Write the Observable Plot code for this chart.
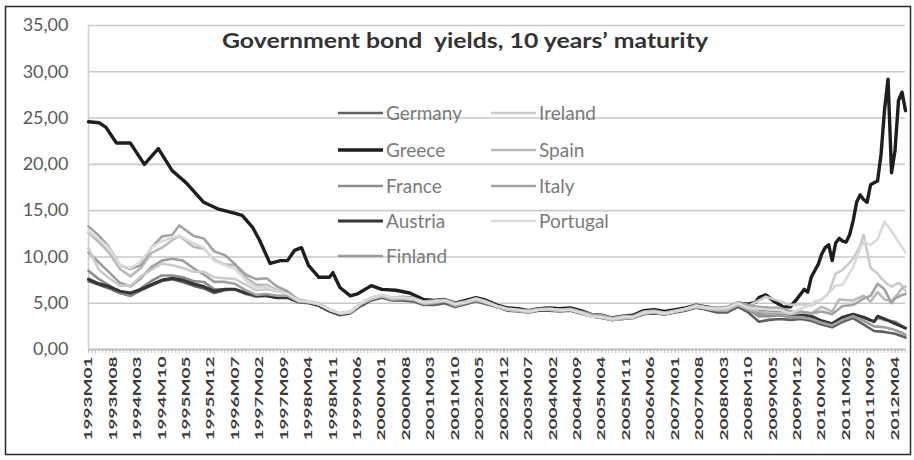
<!DOCTYPE html>
<html><head><meta charset="utf-8">
<script src="https://cdn.jsdelivr.net/npm/d3@7"></script>
<script src="https://cdn.jsdelivr.net/npm/@observablehq/plot@0.6"></script>
<style>
body{margin:0;background:#fff;}
#chart{width:914px;height:460px;}
</style></head><body><div id="chart"></div>
<script>
const titleText = "Government bond  yields, 10 years\u2019 maturity";
const tickLabels = ["1993M01","1993M08","1994M03","1994M10","1995M05","1995M12","1996M07","1997M02","1997M09","1998M04","1998M11","1999M06","2000M01","2000M08","2001M03","2001M10","2002M05","2002M12","2003M07","2004M02","2004M09","2005M04","2005M11","2006M06","2007M01","2007M08","2008M03","2008M10","2009M05","2009M12","2010M07","2011M02","2011M09","2012M04"];
const yTicks = [0,5,10,15,20,25,30,35];
const lastPeriod = "2012M07";

const germany = [["1993M01",7.4],["1993M04",7.0],["1993M07",6.6],["1993M10",6.1],["1994M01",5.8],["1994M04",6.4],["1994M07",6.9],["1994M10",7.4],["1995M01",7.6],["1995M04",7.3],["1995M07",6.9],["1995M10",6.6],["1996M01",6.1],["1996M04",6.4],["1996M07",6.5],["1996M10",6.1],["1997M01",5.8],["1997M04",5.8],["1997M07",5.6],["1997M10",5.6],["1998M01",5.1],["1998M04",5.0],["1998M07",4.7],["1998M10",4.1],["1999M01",3.7],["1999M04",3.9],["1999M07",4.7],["1999M10",5.3],["2000M01",5.6],["2000M04",5.3],["2000M07",5.3],["2000M10",5.2],["2001M01",4.8],["2001M04",4.8],["2001M07",5.0],["2001M10",4.6],["2002M01",4.9],["2002M04",5.2],["2002M07",4.9],["2002M10",4.6],["2003M01",4.2],["2003M04",4.1],["2003M07",4.0],["2003M10",4.2],["2004M01",4.2],["2004M04",4.1],["2004M07",4.2],["2004M10",3.9],["2005M01",3.6],["2005M04",3.4],["2005M07",3.2],["2005M10",3.3],["2006M01",3.4],["2006M04",3.8],["2006M07",3.9],["2006M10",3.8],["2007M01",4.0],["2007M04",4.2],["2007M07",4.5],["2007M10",4.3],["2008M01",4.0],["2008M04",4.0],["2008M07",4.6],["2008M10",4.0],["2009M01",3.0],["2009M04",3.2],["2009M07",3.3],["2009M10",3.2],["2010M01",3.3],["2010M04",3.1],["2010M07",2.7],["2010M10",2.4],["2011M01",3.0],["2011M04",3.4],["2011M07",2.7],["2011M10",2.0],["2012M01",1.9],["2012M04",1.7],["2012M07",1.3]];

const greece = [["1993M01",24.6],["1993M04",24.5],["1993M06",24.0],["1993M09",22.3],["1994M01",22.3],["1994M05",20.0],["1994M09",21.7],["1995M01",19.3],["1995M05",18.0],["1995M10",15.9],["1996M02",15.2],["1996M07",14.7],["1996M09",14.5],["1996M12",13.2],["1997M02",11.8],["1997M05",9.3],["1997M08",9.6],["1997M10",9.6],["1997M12",10.7],["1998M02",11.0],["1998M04",9.1],["1998M07",7.8],["1998M10",7.8],["1998M11",8.3],["1999M01",6.7],["1999M04",5.8],["1999M06",6.0],["1999M10",6.9],["2000M01",6.5],["2000M05",6.4],["2000M09",6.1],["2001M01",5.4],["2001M04",5.3],["2001M07",5.4],["2001M10",5.0],["2002M01",5.3],["2002M04",5.6],["2002M07",5.3],["2002M10",4.8],["2003M01",4.5],["2003M04",4.4],["2003M07",4.2],["2003M10",4.4],["2004M01",4.5],["2004M04",4.4],["2004M07",4.5],["2004M10",4.2],["2005M01",3.8],["2005M04",3.7],["2005M07",3.4],["2005M10",3.6],["2006M01",3.7],["2006M04",4.2],["2006M07",4.3],["2006M10",4.1],["2007M01",4.3],["2007M04",4.5],["2007M07",4.8],["2007M10",4.6],["2008M01",4.4],["2008M04",4.5],["2008M07",5.0],["2008M10",4.9],["2008M12",5.1],["2009M01",5.6],["2009M03",5.9],["2009M05",5.3],["2009M08",4.6],["2009M10",4.6],["2009M12",5.5],["2010M01",6.0],["2010M02",6.5],["2010M03",6.2],["2010M04",7.8],["2010M05",8.5],["2010M06",9.2],["2010M07",10.3],["2010M08",11.0],["2010M09",11.3],["2010M10",9.6],["2010M11",11.5],["2010M12",12.0],["2011M01",11.7],["2011M02",11.6],["2011M03",12.4],["2011M04",13.9],["2011M05",15.9],["2011M06",16.7],["2011M07",16.2],["2011M08",15.9],["2011M09",17.8],["2011M10",18.0],["2011M11",18.2],["2011M12",21.1],["2012M01",25.9],["2012M02",29.2],["2012M03",19.1],["2012M04",21.5],["2012M05",26.9],["2012M06",27.8],["2012M07",25.8]];

const france = [["1993M01",8.5],["1993M04",7.6],["1993M07",6.9],["1993M10",6.1],["1994M01",5.8],["1994M04",6.6],["1994M07",7.4],["1994M10",8.0],["1995M01",8.0],["1995M04",7.8],["1995M07",7.4],["1995M10",7.3],["1996M01",6.5],["1996M04",6.5],["1996M07",6.5],["1996M10",6.0],["1997M01",5.7],["1997M04",5.8],["1997M07",5.6],["1997M10",5.6],["1998M01",5.2],["1998M04",5.1],["1998M07",4.8],["1998M10",4.2],["1999M01",3.8],["1999M04",4.0],["1999M07",4.8],["1999M10",5.4],["2000M01",5.7],["2000M04",5.4],["2000M07",5.5],["2000M10",5.4],["2001M01",5.0],["2001M04",5.1],["2001M07",5.2],["2001M10",4.8],["2002M01",5.0],["2002M04",5.4],["2002M07",5.1],["2002M10",4.6],["2003M01",4.3],["2003M04",4.2],["2003M07",4.1],["2003M10",4.3],["2004M01",4.3],["2004M04",4.2],["2004M07",4.3],["2004M10",4.0],["2005M01",3.6],["2005M04",3.5],["2005M07",3.2],["2005M10",3.4],["2006M01",3.4],["2006M04",3.9],["2006M07",4.0],["2006M10",3.8],["2007M01",4.1],["2007M04",4.3],["2007M07",4.6],["2007M10",4.4],["2008M01",4.2],["2008M04",4.2],["2008M07",4.8],["2008M10",4.3],["2009M01",3.6],["2009M04",3.6],["2009M07",3.7],["2009M10",3.5],["2010M01",3.5],["2010M04",3.5],["2010M07",3.0],["2010M10",2.8],["2011M01",3.4],["2011M04",3.7],["2011M07",3.4],["2011M10",3.0],["2011M11",3.4],["2012M01",3.2],["2012M04",3.0],["2012M07",2.3]];

const austria = [["1993M01",7.6],["1993M04",7.1],["1993M07",6.8],["1993M10",6.3],["1994M01",6.1],["1994M04",6.5],["1994M07",7.0],["1994M10",7.5],["1995M01",7.7],["1995M04",7.5],["1995M07",7.1],["1995M10",6.8],["1996M01",6.3],["1996M04",6.5],["1996M07",6.5],["1996M10",6.1],["1997M01",5.8],["1997M04",5.8],["1997M07",5.6],["1997M10",5.6],["1998M01",5.2],["1998M04",5.1],["1998M07",4.8],["1998M10",4.2],["1999M01",3.8],["1999M04",4.0],["1999M07",4.8],["1999M10",5.4],["2000M01",5.7],["2000M04",5.5],["2000M07",5.5],["2000M10",5.4],["2001M01",5.0],["2001M04",5.1],["2001M07",5.2],["2001M10",4.8],["2002M01",5.0],["2002M04",5.4],["2002M07",5.1],["2002M10",4.6],["2003M01",4.3],["2003M04",4.2],["2003M07",4.1],["2003M10",4.3],["2004M01",4.3],["2004M04",4.2],["2004M07",4.3],["2004M10",4.0],["2005M01",3.6],["2005M04",3.5],["2005M07",3.2],["2005M10",3.4],["2006M01",3.5],["2006M04",3.9],["2006M07",4.0],["2006M10",3.8],["2007M01",4.1],["2007M04",4.3],["2007M07",4.6],["2007M10",4.4],["2008M01",4.2],["2008M04",4.2],["2008M07",4.8],["2008M10",4.4],["2009M01",4.1],["2009M04",4.1],["2009M07",4.0],["2009M10",3.7],["2010M01",3.8],["2010M04",3.6],["2010M07",3.1],["2010M10",2.8],["2011M01",3.5],["2011M04",3.8],["2011M07",3.5],["2011M10",3.0],["2011M11",3.6],["2012M01",3.3],["2012M04",2.8],["2012M07",2.3]];

const finland = [["1993M01",10.5],["1993M04",9.4],["1993M07",8.3],["1993M10",7.2],["1994M01",6.8],["1994M04",7.7],["1994M07",8.9],["1994M10",9.6],["1995M01",9.8],["1995M04",9.6],["1995M07",8.8],["1995M10",8.1],["1996M01",7.3],["1996M04",7.3],["1996M07",7.1],["1996M10",6.4],["1997M01",5.9],["1997M04",6.0],["1997M07",5.8],["1997M10",5.8],["1998M01",5.2],["1998M04",5.1],["1998M07",4.9],["1998M10",4.3],["1999M01",3.9],["1999M04",4.0],["1999M07",4.9],["1999M10",5.4],["2000M01",5.7],["2000M04",5.4],["2000M07",5.5],["2000M10",5.4],["2001M01",4.9],["2001M04",5.0],["2001M07",5.2],["2001M10",4.7],["2002M01",5.0],["2002M04",5.3],["2002M07",5.0],["2002M10",4.6],["2003M01",4.3],["2003M04",4.2],["2003M07",4.0],["2003M10",4.3],["2004M01",4.3],["2004M04",4.2],["2004M07",4.3],["2004M10",3.9],["2005M01",3.6],["2005M04",3.4],["2005M07",3.2],["2005M10",3.3],["2006M01",3.4],["2006M04",3.9],["2006M07",4.0],["2006M10",3.8],["2007M01",4.1],["2007M04",4.3],["2007M07",4.6],["2007M10",4.4],["2008M01",4.2],["2008M04",4.2],["2008M07",4.8],["2008M10",4.3],["2009M01",3.8],["2009M04",3.8],["2009M07",3.8],["2009M10",3.5],["2010M01",3.5],["2010M04",3.3],["2010M07",2.9],["2010M10",2.6],["2011M01",3.2],["2011M04",3.6],["2011M07",3.1],["2011M10",2.5],["2012M01",2.4],["2012M04",2.1],["2012M07",1.6]];

const ireland = [["1993M01",10.9],["1993M04",8.6],["1993M07",7.7],["1993M10",6.9],["1994M01",6.9],["1994M04",7.9],["1994M07",8.6],["1994M10",9.3],["1995M01",9.1],["1995M04",8.8],["1995M07",8.4],["1995M10",8.4],["1996M01",7.8],["1996M04",7.7],["1996M07",7.6],["1996M10",7.0],["1997M01",6.4],["1997M04",6.5],["1997M07",6.3],["1997M10",6.1],["1998M01",5.3],["1998M04",5.2],["1998M07",5.0],["1998M10",4.3],["1999M01",3.9],["1999M04",4.0],["1999M07",4.9],["1999M10",5.5],["2000M01",5.8],["2000M04",5.5],["2000M07",5.5],["2000M10",5.4],["2001M01",5.0],["2001M04",5.1],["2001M07",5.3],["2001M10",4.9],["2002M01",5.1],["2002M04",5.4],["2002M07",5.1],["2002M10",4.6],["2003M01",4.3],["2003M04",4.2],["2003M07",4.1],["2003M10",4.3],["2004M01",4.3],["2004M04",4.2],["2004M07",4.3],["2004M10",4.0],["2005M01",3.6],["2005M04",3.5],["2005M07",3.2],["2005M10",3.4],["2006M01",3.5],["2006M04",3.9],["2006M07",4.0],["2006M10",3.9],["2007M01",4.1],["2007M04",4.3],["2007M07",4.7],["2007M10",4.5],["2008M01",4.3],["2008M04",4.5],["2008M07",5.0],["2008M10",4.7],["2009M01",5.3],["2009M03",5.7],["2009M07",5.2],["2009M10",4.8],["2010M01",4.9],["2010M04",4.7],["2010M07",5.4],["2010M09",6.1],["2010M11",8.2],["2011M01",8.6],["2011M04",9.8],["2011M06",11.2],["2011M07",12.4],["2011M09",8.8],["2011M11",8.2],["2011M12",7.7],["2012M02",7.0],["2012M03",6.8],["2012M05",7.2],["2012M06",6.9],["2012M07",6.3]];

const spain = [["1993M01",12.6],["1993M04",11.6],["1993M07",10.4],["1993M10",8.7],["1994M01",7.9],["1994M04",8.8],["1994M07",10.4],["1994M10",11.0],["1995M01",11.8],["1995M03",12.3],["1995M07",11.1],["1995M10",10.9],["1996M01",9.7],["1996M04",9.2],["1996M07",9.1],["1996M10",7.8],["1997M01",7.0],["1997M04",7.0],["1997M07",6.4],["1997M10",6.1],["1998M01",5.3],["1998M04",5.1],["1998M07",4.9],["1998M10",4.3],["1999M01",3.9],["1999M04",4.1],["1999M07",4.9],["1999M10",5.5],["2000M01",5.8],["2000M04",5.5],["2000M07",5.5],["2000M10",5.4],["2001M01",5.1],["2001M04",5.2],["2001M07",5.3],["2001M10",4.9],["2002M01",5.1],["2002M04",5.4],["2002M07",5.1],["2002M10",4.6],["2003M01",4.3],["2003M04",4.2],["2003M07",4.1],["2003M10",4.3],["2004M01",4.3],["2004M04",4.2],["2004M07",4.3],["2004M10",4.0],["2005M01",3.6],["2005M04",3.5],["2005M07",3.2],["2005M10",3.4],["2006M01",3.5],["2006M04",3.9],["2006M07",4.0],["2006M10",3.8],["2007M01",4.1],["2007M04",4.3],["2007M07",4.6],["2007M10",4.4],["2008M01",4.3],["2008M04",4.3],["2008M07",4.9],["2008M10",4.4],["2009M01",4.1],["2009M04",4.0],["2009M07",4.0],["2009M10",3.8],["2010M01",4.0],["2010M04",3.9],["2010M07",4.6],["2010M10",4.1],["2010M12",5.4],["2011M04",5.3],["2011M07",5.8],["2011M09",5.2],["2011M11",6.2],["2012M01",5.4],["2012M03",5.2],["2012M05",6.1],["2012M06",6.6],["2012M07",6.8]];

const italy = [["1993M01",13.3],["1993M04",12.3],["1993M07",11.0],["1993M10",9.1],["1994M01",8.7],["1994M04",9.1],["1994M07",11.0],["1994M10",12.2],["1995M01",12.4],["1995M03",13.4],["1995M07",12.3],["1995M10",12.0],["1996M01",10.6],["1996M04",10.2],["1996M07",9.2],["1996M10",8.1],["1997M01",7.6],["1997M04",7.7],["1997M07",6.8],["1997M10",6.3],["1998M01",5.4],["1998M04",5.2],["1998M07",4.9],["1998M10",4.3],["1999M01",3.9],["1999M04",4.1],["1999M07",5.0],["1999M10",5.6],["2000M01",5.9],["2000M04",5.6],["2000M07",5.7],["2000M10",5.6],["2001M01",5.2],["2001M04",5.3],["2001M07",5.4],["2001M10",5.0],["2002M01",5.2],["2002M04",5.5],["2002M07",5.2],["2002M10",4.7],["2003M01",4.4],["2003M04",4.3],["2003M07",4.2],["2003M10",4.4],["2004M01",4.4],["2004M04",4.3],["2004M07",4.4],["2004M10",4.1],["2005M01",3.8],["2005M04",3.7],["2005M07",3.4],["2005M10",3.6],["2006M01",3.6],["2006M04",4.1],["2006M07",4.2],["2006M10",4.0],["2007M01",4.2],["2007M04",4.4],["2007M07",4.8],["2007M10",4.6],["2008M01",4.5],["2008M04",4.6],["2008M07",5.1],["2008M10",4.8],["2009M01",4.6],["2009M04",4.5],["2009M07",4.5],["2009M10",4.1],["2010M01",4.1],["2010M04",3.9],["2010M07",4.1],["2010M10",3.8],["2011M01",4.7],["2011M04",4.8],["2011M07",5.5],["2011M09",5.8],["2011M11",7.1],["2012M01",6.5],["2012M03",5.0],["2012M04",5.5],["2012M06",5.9],["2012M07",6.0]];

const portugal = [["1993M01",12.8],["1993M04",11.9],["1993M07",10.9],["1993M10",9.1],["1994M01",8.8],["1994M04",9.5],["1994M07",11.0],["1994M10",11.7],["1995M01",12.1],["1995M03",12.3],["1995M07",11.5],["1995M10",11.0],["1996M01",9.6],["1996M04",9.1],["1996M07",8.7],["1996M10",7.5],["1997M01",6.7],["1997M04",6.8],["1997M07",6.3],["1997M10",6.0],["1998M01",5.3],["1998M04",5.2],["1998M07",4.9],["1998M10",4.3],["1999M01",3.9],["1999M04",4.1],["1999M07",5.0],["1999M10",5.6],["2000M01",5.9],["2000M04",5.6],["2000M07",5.6],["2000M10",5.5],["2001M01",5.1],["2001M04",5.2],["2001M07",5.3],["2001M10",4.9],["2002M01",5.1],["2002M04",5.5],["2002M07",5.1],["2002M10",4.7],["2003M01",4.4],["2003M04",4.3],["2003M07",4.1],["2003M10",4.3],["2004M01",4.4],["2004M04",4.3],["2004M07",4.3],["2004M10",4.0],["2005M01",3.6],["2005M04",3.5],["2005M07",3.3],["2005M10",3.5],["2006M01",3.5],["2006M04",4.0],["2006M07",4.1],["2006M10",3.9],["2007M01",4.1],["2007M04",4.4],["2007M07",4.7],["2007M10",4.5],["2008M01",4.4],["2008M04",4.5],["2008M07",5.0],["2008M10",4.5],["2009M01",4.4],["2009M04",4.3],["2009M07",4.3],["2009M10",3.9],["2010M01",4.4],["2010M04",4.8],["2010M05",5.2],["2010M07",5.4],["2010M09",6.1],["2010M11",6.9],["2011M01",7.0],["2011M04",8.9],["2011M06",10.9],["2011M07",11.6],["2011M09",11.3],["2011M11",11.9],["2012M01",13.8],["2012M03",12.8],["2012M05",11.6],["2012M07",10.5]];

const seriesNames = ["Germany","Greece","France","Austria","Finland","Ireland","Spain","Italy","Portugal"];
const seriesData = [germany, greece, france, austria, finland, ireland, spain, italy, portugal];
const seriesColors = ["#5f5f5f","#1e1e1e","#8c8c8c","#353535","#9e9e9e","#cbcbcb","#bababa","#a3a3a3","#dadada"];
const seriesWidths = [2.6, 3.4, 2.6, 3.0, 2.6, 2.6, 2.6, 2.6, 2.6];

const monthIndex = s => (+s.slice(0, 4) - 1993) * 12 + (+s.slice(5) - 1);
const labelByIndex = new Map(tickLabels.map(l => [monthIndex(l), l]));
const fmt = d => d.toFixed(2).replace(".", ",");

const lineMarks = seriesData.map((arr, i) =>
  Plot.line(arr.map(([p, v]) => ({t: monthIndex(p), v})), {
    x: "t", y: "v", stroke: seriesColors[i], strokeWidth: seriesWidths[i],
    strokeLinejoin: "round", strokeLinecap: "round"
  })
);

const chart = Plot.plot({
  width: 914, height: 460,
  marginLeft: 88, marginRight: 9, marginTop: 25, marginBottom: 111,
  style: {fontFamily: "Lato, sans-serif", background: "#fff", overflow: "visible"},
  x: {domain: [0, monthIndex(lastPeriod)]},
  y: {domain: [0, 35]},
  marks: [
    Plot.gridY(yTicks.filter(d => d > 0), {stroke: "#c9c9c9", strokeOpacity: 1, strokeWidth: 1.6}),
    Plot.axisY(yTicks, {tickSize: 0, tickPadding: 20, tickFormat: fmt, fontSize: 18, fill: "#5a5a5a", label: null}),
    Plot.ruleX([0], {stroke: "#d0d0d0", strokeWidth: 1.5}),
    Plot.axisX(d3.range(0, monthIndex(lastPeriod) + 1), {tickSize: 4, stroke: "#c4c4c4", tickFormat: () => "", label: null}),
    Plot.axisX(tickLabels.map(monthIndex), {tickSize: 4, tickPadding: 3, tickRotate: -90, tickFormat: d => labelByIndex.get(d), fontSize: 11.5, fontWeight: "bold", fill: "#3a3a3a", stroke: "#c4c4c4", label: null}),
    Plot.ruleY([0], {stroke: "#bdbdbd", strokeWidth: 2}),
    ...lineMarks
  ]
});

document.getElementById("chart").appendChild(chart);
const svg = d3.select(chart);

// stretch x tick labels to match reference proportions
svg.selectAll('g[aria-label="x-axis tick label"] text')
  .attr("textLength", 84).attr("lengthAdjust", "spacingAndGlyphs");

// title
svg.append("text")
  .attr("x", 465).attr("y", 48).attr("text-anchor", "middle")
  .attr("font-family", "Lato, sans-serif").attr("font-weight", "bold")
  .attr("font-size", 20).attr("fill", "#333")
  .attr("textLength", 486).attr("lengthAdjust", "spacingAndGlyphs")
  .text(titleText);

// legend (two columns inside plot area)
const leg = svg.append("g").attr("font-family", "Lato, sans-serif").attr("font-size", 19)
  .attr("fill", "#7a7a7a").attr("text-anchor", "start");
const legRows = [113, 150, 186, 221, 256];
seriesNames.forEach((name, i) => {
  const col = i < 5 ? 0 : 1;
  const row = i < 5 ? i : i - 5;
  const x0 = col === 0 ? 338 : 491;
  const y = legRows[row];
  leg.append("line").attr("x1", x0).attr("x2", x0 + 45).attr("y1", y).attr("y2", y)
    .attr("stroke", seriesColors[i]).attr("stroke-width", seriesWidths[i]);
  leg.append("text").attr("x", x0 + 48).attr("y", y + 6.5).attr("text-anchor", "start").text(name);
});

// outer frame
svg.append("rect").attr("x", 5.5).attr("y", 6.5).attr("width", 905).attr("height", 448)
  .attr("fill", "none").attr("stroke", "#2a2a2a").attr("stroke-width", 1.5);
</script>
</body></html>
